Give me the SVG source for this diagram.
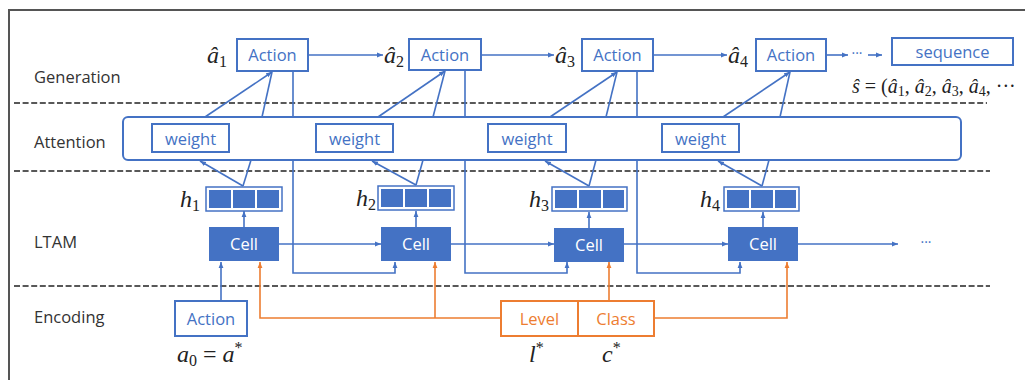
<svg xmlns="http://www.w3.org/2000/svg" width="1025" height="380" viewBox="0 0 1025 380">
<style>
.lbl{font-family:"Open Sans","Liberation Sans",sans-serif;font-size:16.5px;fill:#333}
.bt{font-family:"Open Sans","Liberation Sans",sans-serif;font-size:16.5px;fill:#4472C4;text-anchor:middle}
.ot{font-family:"Open Sans","Liberation Sans",sans-serif;font-size:16.5px;fill:#ED7D31;text-anchor:middle}
.ct{font-family:"Open Sans","Liberation Sans",sans-serif;font-size:16.5px;fill:#fff;text-anchor:middle}
.box{fill:#fff;stroke:#4472C4;stroke-width:2}
.obox{fill:#fff;stroke:#ED7D31;stroke-width:2}
.cell{fill:#4472C4}
.hbox{fill:#fff;stroke:#4472C4;stroke-width:1.5}
.sq{fill:#4472C4}
.c{fill:none;stroke:#4472C4;stroke-width:1.6}
.co{fill:none;stroke:#ED7D31;stroke-width:1.6}
.dash{stroke:#222;stroke-width:1.6;stroke-dasharray:6 2.6}
.m{font-family:"Liberation Serif","DejaVu Serif",serif;font-style:italic;font-size:24px;fill:#222}
.sub{font-style:normal;font-size:16px}
.sm{font-family:"Liberation Serif","DejaVu Serif",serif;font-style:italic;font-size:20px;fill:#222}
.ssub{font-style:normal;font-size:14px}
</style>
<defs>
<marker id="ab" viewBox="0 0 10 10" refX="10" refY="5" markerWidth="6" markerHeight="6" markerUnits="userSpaceOnUse" orient="auto"><path d="M0,1 L10,5 L0,9 z" fill="#4472C4"/></marker>
<marker id="ao" viewBox="0 0 10 10" refX="10" refY="5" markerWidth="6" markerHeight="6" markerUnits="userSpaceOnUse" orient="auto"><path d="M0,1 L10,5 L0,9 z" fill="#ED7D31"/></marker>
</defs>
<rect width="1025" height="380" fill="#fff"/>
<g id="frame">
<path d="M9,380 V10 H1025" fill="none" stroke="#555" stroke-width="2"/>
</g>
<g id="separators">
<line class="dash" x1="14" y1="103" x2="987" y2="103"/>
<line class="dash" x1="14" y1="171" x2="990" y2="171"/>
<line class="dash" x1="14" y1="286" x2="990" y2="286"/>
</g>
<g id="layer-labels">
<text class="lbl" x="34" y="83">Generation</text>
<text class="lbl" x="34" y="148">Attention</text>
<text class="lbl" x="34" y="248">LTAM</text>
<text class="lbl" x="34" y="323">Encoding</text>
</g>
<g id="connectors">
<path class="c" d="M293,71 V273 H395 V262" marker-end="url(#ab)"/>
<path class="c" d="M465,71 V273 H567 V262" marker-end="url(#ab)"/>
<path class="c" d="M637,71 V273 H740 V262" marker-end="url(#ab)"/>
<line class="c" x1="308" y1="55" x2="383" y2="55" marker-end="url(#ab)"/>
<line class="c" x1="481" y1="55" x2="554" y2="55" marker-end="url(#ab)"/>
<line class="c" x1="653" y1="55" x2="727" y2="55" marker-end="url(#ab)"/>
<line class="c" x1="826" y1="55" x2="848" y2="55" marker-end="url(#ab)"/>
<line class="c" x1="868" y1="55" x2="882" y2="55" marker-end="url(#ab)"/>
<line class="c" x1="205" y1="117" x2="272" y2="72" marker-end="url(#ab)"/>
<line class="c" x1="262" y1="117" x2="272" y2="72"/>
<line class="c" x1="378" y1="117" x2="445" y2="71" marker-end="url(#ab)"/>
<line class="c" x1="433" y1="117" x2="445" y2="71"/>
<line class="c" x1="550" y1="117" x2="617" y2="72" marker-end="url(#ab)"/>
<line class="c" x1="606" y1="117" x2="617" y2="72"/>
<line class="c" x1="723" y1="117" x2="790" y2="72" marker-end="url(#ab)"/>
<line class="c" x1="780" y1="117" x2="790" y2="72"/>
</g>
<g id="attention">
<rect x="123" y="117" width="838" height="43" rx="5" fill="#fff" stroke="#4472C4" stroke-width="2"/>
</g>
<g id="connectors2">
<line class="c" x1="243" y1="186" x2="200" y2="161" marker-end="url(#ab)"/>
<line class="c" x1="243" y1="186" x2="251" y2="160"/>
<line class="c" x1="416" y1="185" x2="372" y2="161" marker-end="url(#ab)"/>
<line class="c" x1="416" y1="185" x2="423" y2="160"/>
<line class="c" x1="589" y1="186" x2="545" y2="161" marker-end="url(#ab)"/>
<line class="c" x1="589" y1="186" x2="596" y2="160"/>
<line class="c" x1="762" y1="186" x2="718" y2="161" marker-end="url(#ab)"/>
<line class="c" x1="762" y1="186" x2="769" y2="160"/>
<line class="c" x1="244" y1="227" x2="244" y2="211" marker-end="url(#ab)"/>
<line class="c" x1="416" y1="227" x2="416" y2="211" marker-end="url(#ab)"/>
<line class="c" x1="589" y1="229" x2="589" y2="212" marker-end="url(#ab)"/>
<line class="c" x1="763" y1="227" x2="763" y2="212" marker-end="url(#ab)"/>
<line class="c" x1="279" y1="244" x2="381" y2="244" marker-end="url(#ab)"/>
<line class="c" x1="451" y1="244" x2="554" y2="244" marker-end="url(#ab)"/>
<line class="c" x1="624" y1="244" x2="728" y2="244" marker-end="url(#ab)"/>
<line class="c" x1="798" y1="244" x2="898" y2="244" marker-end="url(#ab)"/>
<line class="c" x1="221" y1="301" x2="221" y2="262" marker-end="url(#ab)"/>
<path class="co" d="M501,318 H260 V262" marker-end="url(#ao)"/>
<line class="co" x1="435" y1="318" x2="435" y2="262" marker-end="url(#ao)"/>
<line class="co" x1="609" y1="301" x2="609" y2="262" marker-end="url(#ao)"/>
<path class="co" d="M654,318 H787 V262" marker-end="url(#ao)"/>
</g>
<g id="gen-action-1"><rect class="box" x="237" y="39" width="71" height="32"/><text class="bt" x="272.5" y="61">Action</text><text class="m" x="207" y="63">â<tspan class="sub" dy="4">1</tspan></text></g>
<g id="gen-action-2"><rect class="box" x="409" y="39" width="72" height="31"/><text class="bt" x="445" y="61">Action</text><text class="m" x="384" y="63">â<tspan class="sub" dy="4">2</tspan></text></g>
<g id="gen-action-3"><rect class="box" x="582" y="39" width="71" height="32"/><text class="bt" x="617.5" y="61">Action</text><text class="m" x="555" y="63">â<tspan class="sub" dy="4">3</tspan></text></g>
<g id="gen-action-4"><rect class="box" x="756" y="39" width="70" height="32"/><text class="bt" x="791" y="61">Action</text><text class="m" x="728" y="63">â<tspan class="sub" dy="4">4</tspan></text></g>
<g id="ellipsis-gen"><text x="857" y="58" font-family="Open Sans, sans-serif" font-size="14" fill="#4472C4" text-anchor="middle">···</text></g>
<g id="sequence"><rect class="box" x="892" y="38" width="121" height="27"/><text class="bt" x="952.5" y="58">sequence</text>
<text class="sm" x="852" y="93">ŝ <tspan font-style="normal">= (</tspan>â<tspan class="ssub" dy="3">1</tspan><tspan dy="-3" font-style="normal">, </tspan>â<tspan class="ssub" dy="3">2</tspan><tspan dy="-3" font-style="normal">, </tspan>â<tspan class="ssub" dy="3">3</tspan><tspan dy="-3" font-style="normal">, </tspan>â<tspan class="ssub" dy="3">4</tspan><tspan dy="-3" font-style="normal">, ···</tspan></text></g>
<g id="weight-1"><rect class="box" x="152" y="124" width="77" height="28"/><text class="bt" x="190.5" y="145">weight</text></g>
<g id="weight-2"><rect class="box" x="316" y="124" width="77" height="28"/><text class="bt" x="354.5" y="145">weight</text></g>
<g id="weight-3"><rect class="box" x="488" y="124" width="78" height="28"/><text class="bt" x="527" y="145">weight</text></g>
<g id="weight-4"><rect class="box" x="662" y="124" width="77" height="28"/><text class="bt" x="700.5" y="145">weight</text></g>
<g id="h-1"><rect class="hbox" x="206" y="187" width="76" height="24"/><rect class="sq" x="209" y="190" width="22" height="18"/><rect class="sq" x="233" y="190" width="22" height="18"/><rect class="sq" x="257" y="190" width="22" height="18"/><text class="m" x="180" y="207" font-size="22">h<tspan class="sub" dy="4" font-size="15">1</tspan></text></g>
<g id="h-2"><rect class="hbox" x="378" y="186" width="76" height="24"/><rect class="sq" x="381" y="189" width="22" height="18"/><rect class="sq" x="405" y="189" width="22" height="18"/><rect class="sq" x="429" y="189" width="22" height="18"/><text class="m" x="356" y="206" font-size="22">h<tspan class="sub" dy="4" font-size="15">2</tspan></text></g>
<g id="h-3"><rect class="hbox" x="552" y="187" width="75" height="24"/><rect class="sq" x="555" y="190" width="22" height="18"/><rect class="sq" x="579" y="190" width="22" height="18"/><rect class="sq" x="603" y="190" width="21" height="18"/><text class="m" x="529" y="207" font-size="22">h<tspan class="sub" dy="4" font-size="15">3</tspan></text></g>
<g id="h-4"><rect class="hbox" x="724" y="187" width="75" height="24"/><rect class="sq" x="727" y="190" width="22" height="18"/><rect class="sq" x="751" y="190" width="22" height="18"/><rect class="sq" x="775" y="190" width="21" height="18"/><text class="m" x="700" y="207" font-size="22">h<tspan class="sub" dy="4" font-size="15">4</tspan></text></g>
<g id="cell-1"><rect class="cell" x="209" y="227" width="70" height="34"/><text class="ct" x="244" y="250">Cell</text></g>
<g id="cell-2"><rect class="cell" x="381" y="227" width="70" height="34"/><text class="ct" x="416" y="250">Cell</text></g>
<g id="cell-3"><rect class="cell" x="554" y="228" width="70" height="34"/><text class="ct" x="589" y="251">Cell</text></g>
<g id="cell-4"><rect class="cell" x="728" y="227" width="70" height="34"/><text class="ct" x="763" y="250">Cell</text></g>
<g id="ellipsis-cell"><text x="926" y="247" font-family="Open Sans, sans-serif" font-size="14" fill="#4472C4" text-anchor="middle">···</text></g>
<g id="enc-action"><rect class="box" x="175" y="301" width="72" height="35"/><text class="bt" x="211" y="325">Action</text><text class="m" x="177" y="362">a<tspan class="sub" dy="4">0</tspan><tspan dy="-4" font-style="normal"> = </tspan>a<tspan dy="-9" font-size="16" font-style="normal">*</tspan></text></g>
<g id="level"><rect class="obox" x="501" y="301" width="77" height="35"/><text class="ot" x="539.5" y="325">Level</text><text class="m" x="529" y="362">l<tspan dy="-9" font-size="16" font-style="normal">*</tspan></text></g>
<g id="class"><rect class="obox" x="578" y="301" width="76" height="35"/><text class="ot" x="616" y="325">Class</text><text class="m" x="602" y="362">c<tspan dy="-9" font-size="16" font-style="normal">*</tspan></text></g>
</svg>
